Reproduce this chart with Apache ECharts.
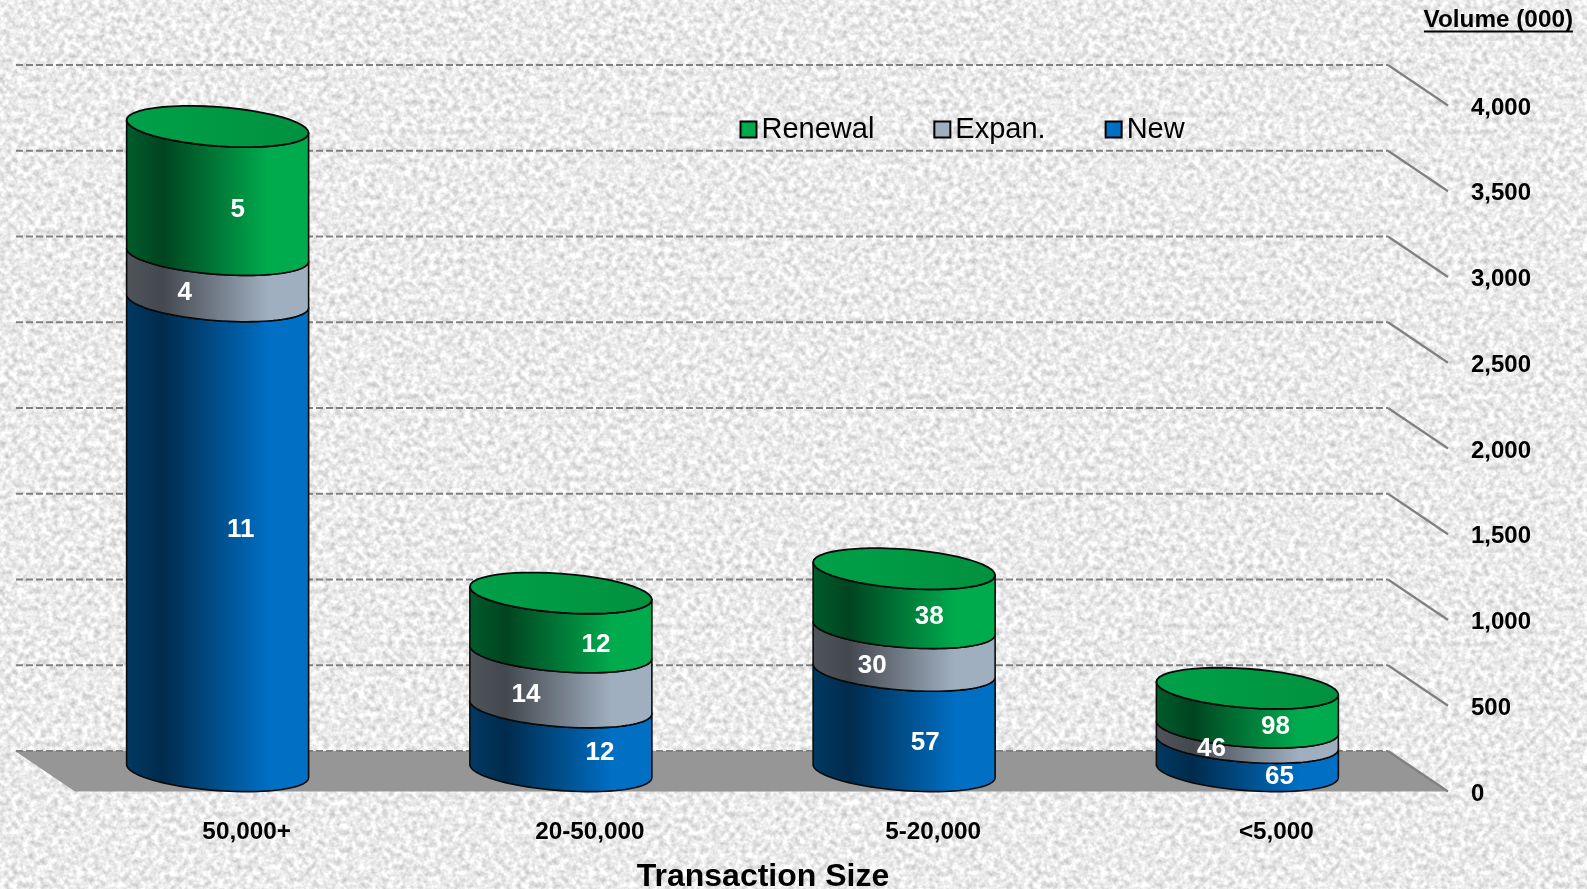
<!DOCTYPE html>
<html>
<head>
<meta charset="utf-8">
<title>Transaction Size</title>
<style>
html, body {margin: 0; padding: 0; width: 100%; height: 100%; overflow: hidden; background-color: #ebebeb;}
body {background-image: url("data:image/svg+xml,%3Csvg xmlns='http://www.w3.org/2000/svg' width='512' height='512'%3E%3Cfilter id='n' x='0' y='0' width='100%25' height='100%25' color-interpolation-filters='sRGB'%3E%3CfeTurbulence type='fractalNoise' baseFrequency='0.17' numOctaves='3' seed='7' stitchTiles='stitch'/%3E%3CfeColorMatrix values='0.4 0 0 0 0.72 0.4 0 0 0 0.72 0.4 0 0 0 0.72 0 0 0 0 1'/%3E%3C/filter%3E%3Crect width='512' height='512' filter='url(%23n)'/%3E%3C/svg%3E");}
#chart {width: 1587px; height: 889px;}
</style>
<script src="https://cdn.jsdelivr.net/npm/echarts@6/dist/echarts.min.js"></script>
</head>
<body>
<div id="chart"></div>
<script>
//	data
var categories = ['50,000+', '20-50,000', '5-20,000', '<5,000'];
var newVol = [2740, 372, 585, 165];
var expanVol = [270, 321, 249, 89];
var renewalVol = [748, 344, 345, 228];
var newCount = ['11', '12', '57', '65'];
var expanCount = ['4', '14', '30', '46'];
var renewalCount = ['5', '12', '38', '98'];
var yTicks = [0, 500, 1000, 1500, 2000, 2500, 3000, 3500, 4000];

//	pixel nudges of the labels from the middle of their segment
var newNudge = [[23, -6], [39, 14], [21, 22], [32, 20]];
var expanNudge = [[-33, 15], [-35, 15], [-32, 17], [-36, 14]];
var renewalNudge = [[20, 19], [35, 22], [25, 18], [28, 19]];

//	the fake 3d: back wall and bar plane are shifted from the front plane
var backDx = -60, backDy = -40.5;
var midDx = -29, midDy = -20.5;
var rx = 91, ry = 19.6, shear = 0.071;

var greenStops = [[0, '#005c2b'], [0.2, '#004420'], [0.78, '#00ab4e'], [1, '#00ab4e']];
var greyStops = [[0, '#50555c'], [0.2, '#43484f'], [0.78, '#a0afc0'], [1, '#a0afc0']];
var blueStops = [[0, '#003a63'], [0.2, '#002b4d'], [0.78, '#006fc4'], [1, '#006fc4']];

function gradient(stops) {
	var list = [];
	for(var i=0; i<stops.length; i++) {
		list.push({offset: stops[i][0], color: stops[i][1]});
	}
	return new echarts.graphic.LinearGradient(0, 0, 1, 0, list);
}

//	points of the tilted ellipse from angle a0 to a1
function arc(cx, cy, a0, a1) {
	var pts = [];
	for(var i=0; i<=48; i++) {
		var a = a0 + (a1 - a0) * i / 48;
		pts.push([cx + rx * Math.cos(a), cy + ry * Math.sin(a) + shear * rx * Math.cos(a)]);
	}
	return pts;
}

function makeSegment(stops, isTop) {
	return function(params, api) {
		var low = api.coord([api.value(0), api.value(1)]);
		var high = api.coord([api.value(0), api.value(2)]);
		var cx = low[0] + midDx;
		var yLow = low[1] + midDy;
		var yHigh = high[1] + midDy;
		var children = [{
			type: 'polygon',
			shape: {points: arc(cx, yLow, Math.PI, 0).concat(arc(cx, yHigh, 0, Math.PI))},
			style: {fill: gradient(stops), stroke: '#0a0a0a', lineWidth: 1.6, lineJoin: 'round'}
		}];
		if(isTop) {
			children.push({
				type: 'polygon',
				shape: {points: arc(cx, yHigh, 0, Math.PI * 2)},
				style: {
					fill: new echarts.graphic.LinearGradient(0, 0, 1, 0, [{offset: 0, color: '#00a049'}, {offset: 1, color: '#00913f'}]),
					stroke: '#0a0a0a',
					lineWidth: 1.8
				}
			});
		}
		return {type: 'group', children: children};
	};
}

//	labels go in their own series so no later segment can cover them
function makeLabels(counts, nudge) {
	return function(params, api) {
		var i = params.dataIndex;
		var low = api.coord([api.value(0), api.value(1)]);
		var high = api.coord([api.value(0), api.value(2)]);
		return {
			type: 'text',
			style: {
				text: counts[i],
				x: low[0] + midDx + nudge[i][0],
				y: (low[1] + high[1]) / 2 + midDy + nudge[i][1],
				align: 'center',
				verticalAlign: 'middle',
				fill: '#fff',
				font: 'bold 26px "Liberation Sans", Arial, sans-serif'
			}
		};
	};
}

function renderBack(params, api) {
	var p = api.coord([0, api.value(0)]);
	var sys = params.coordSys;
	var y = p[1];
	return {
		type: 'group',
		children: [{
			type: 'line',
			shape: {x1: sys.x + backDx + 1, y1: y + backDy, x2: sys.x + sys.width + backDx, y2: y + backDy},
			style: {stroke: '#808080', lineWidth: 2.2, lineDash: [7, 3]}
		}, {
			type: 'line',
			shape: {x1: sys.x + sys.width + backDx, y1: y + backDy, x2: sys.x + sys.width, y2: y},
			style: {stroke: '#808080', lineWidth: 2.2}
		}]
	};
}

function renderFloor(params, api) {
	var y = api.coord([0, 0])[1];
	var sys = params.coordSys;
	return {
		type: 'polygon',
		shape: {points: [
			[sys.x + backDx, y + backDy],
			[sys.x + sys.width + backDx, y + backDy],
			[sys.x + sys.width, y],
			[sys.x, y]
		]},
		style: {fill: '#969696'}
	};
}

function stacked(lows, vals) {
	var rows = [];
	for(var i=0; i<vals.length; i++) {
		rows.push([i, lows[i], lows[i] + vals[i]]);
	}
	return rows;
}

var newRows = stacked([0, 0, 0, 0], newVol);
var expanRows = stacked(newVol, expanVol);
var renewalRows = stacked(expanRows.map(function(r) {return r[2];}), renewalVol);

var myChart = echarts.init(document.getElementById('chart'));

var option = {
	animation: false,
	textStyle: {fontFamily: '"Liberation Sans", Arial, sans-serif'},
	grid: {left: 75, right: 139, top: 105.5, bottom: 97.5, outerBoundsMode: 'none'},
	legend: {
		left: 739.5,
		top: 115,
		padding: 0,
		itemWidth: 16,
		itemHeight: 16,
		itemGap: 59,
		icon: 'rect',
		selectedMode: false,
		itemStyle: {borderColor: '#000', borderWidth: 2},
		textStyle: {fontSize: 29, color: '#000'},
		data: ['Renewal', 'Expan.', 'New']
	},
	xAxis: {
		type: 'category',
		data: categories,
		axisLine: {show: false},
		axisTick: {show: false},
		axisLabel: {margin: 29, fontSize: 24.3, fontWeight: 'bold', color: '#000'},
		name: 'Transaction Size',
		nameLocation: 'middle',
		nameGap: 70,
		nameTextStyle: {fontSize: 32, fontWeight: 'bold', color: '#000', padding: [0, 0, 0, 3]}
	},
	yAxis: {
		type: 'value',
		position: 'right',
		min: 0,
		max: 4000,
		interval: 500,
		axisLine: {show: false},
		axisTick: {show: false},
		splitLine: {show: false},
		axisLabel: {
			margin: 23,
			fontSize: 24,
			fontWeight: 'bold',
			color: '#000',
			verticalAlign: 'top',
			lineHeight: 5,
			formatter: function(v) {return v.toLocaleString('en-US');}
		}
	},
	graphic: [{
		type: 'text',
		right: 14,
		top: 8,
		style: {text: 'Volume (000)', fill: '#000', font: 'bold 24.3px "Liberation Sans", Arial, sans-serif'}
	}, {
		type: 'rect',
		left: 1424,
		top: 30.5,
		shape: {width: 149, height: 2},
		style: {fill: '#000'}
	}],
	series: [
		{type: 'custom', name: 'floor', renderItem: renderFloor, data: [[0]], z: 1, silent: true, encode: {y: 0}},
		{type: 'custom', name: 'back', renderItem: renderBack, data: yTicks.map(function(t) {return [t];}), z: 2, silent: true, encode: {y: 0}},
		{type: 'custom', name: 'New', renderItem: makeSegment(blueStops, false), data: newRows, encode: {x: 0, y: [1, 2]}, itemStyle: {color: '#006fc4'}, z: 3},
		{type: 'custom', name: 'Expan.', renderItem: makeSegment(greyStops, false), data: expanRows, encode: {x: 0, y: [1, 2]}, itemStyle: {color: '#a0afc0'}, z: 4},
		{type: 'custom', name: 'Renewal', renderItem: makeSegment(greenStops, true), data: renewalRows, encode: {x: 0, y: [1, 2]}, itemStyle: {color: '#00ab4e'}, z: 5},
		{type: 'custom', name: 'newLabels', renderItem: makeLabels(newCount, newNudge), data: newRows, encode: {x: 0, y: [1, 2]}, z: 6},
		{type: 'custom', name: 'expanLabels', renderItem: makeLabels(expanCount, expanNudge), data: expanRows, encode: {x: 0, y: [1, 2]}, z: 6},
		{type: 'custom', name: 'renewalLabels', renderItem: makeLabels(renewalCount, renewalNudge), data: renewalRows, encode: {x: 0, y: [1, 2]}, z: 6}
	]
};

myChart.setOption(option);
</script>
</body>
</html>
